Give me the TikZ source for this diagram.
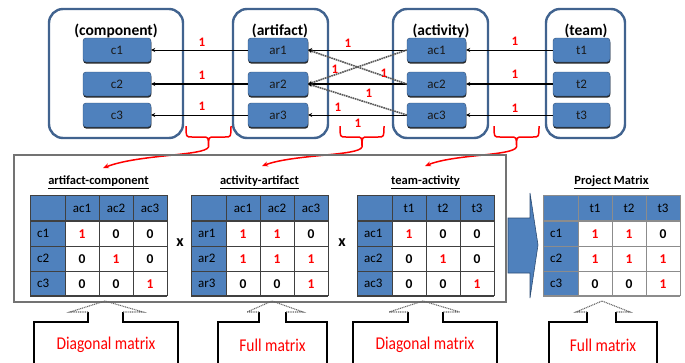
\documentclass[tikz,border=0pt]{standalone}
\usepackage{fontspec}
\setmainfont{Carlito}
\newfontfamily\notefont{Carlito}[FakeStretch=0.86]
\usetikzlibrary{arrows.meta,shadows}

\definecolor{boxblue}{HTML}{4F81BD}
\definecolor{frameblue}{HTML}{41638F}
\definecolor{boxedge}{HTML}{2C4D75}
\definecolor{lred}{HTML}{FF0000}

\tikzset{
  group/.style={draw=frameblue, line width=2.4pt, rounded corners=14pt, minimum height=129pt},
  gtitle/.style={font=\fontsize{15.5}{17}\selectfont\bfseries, inner sep=0pt},
  item/.style={draw=boxedge, fill=boxblue, rounded corners=3pt, minimum height=24pt,
    font=\fontsize{13}{15}\selectfont, text=black!90,
    drop shadow={shadow xshift=0.3pt, shadow yshift=-1.6pt, fill=black, opacity=.85}},
  conn/.style={draw=black, line width=0.9pt, -{Stealth[length=4pt,width=4pt]}},
  heavy/.style={conn, line width=2.6pt},
  cross/.style={draw=black!65, line width=1.6pt, dash pattern=on 1.6pt off 0.7pt,
    -{Stealth[length=4pt,width=4pt,color=black]}},
  one/.style={text=lred, font=\fontsize{13}{15}\selectfont\bfseries, inner sep=0pt},
  brace/.style={draw=lred, line width=1.5pt},
  pointer/.style={draw=lred, line width=1.5pt, -{Stealth[length=6pt,width=5pt]}},
  ttitle/.style={font=\fontsize{12.5}{14}\selectfont\bfseries, inner sep=0pt},
  hd/.style={font=\fontsize{13}{15}\selectfont, text=black, inner sep=0pt},
  val/.style={font=\fontsize{13.5}{15}\selectfont\bfseries, inner sep=0pt},
  times/.style={font=\fontsize{16}{18}\selectfont\bfseries, inner sep=0pt},
  note/.style={text=lred, font=\notefont\fontsize{18}{20}\selectfont, inner sep=0pt},
}

% #1 left edge, #2 name prefix, #3 column heads, #4 row heads, #5 nine values,
% #6 grid colour, #7 title
\newcommand{\mattab}[7]{%
  \fill[boxblue] (#1,195) rectangle ++(137,26);
  \fill[boxblue] (#1,221) rectangle ++(35,75);
  \foreach \gx in {0,35,69,103,137}
    \draw[#6, line width=0.9pt] (#1+\gx,195) -- (#1+\gx,296);
  \foreach \gy in {195,246,271}
    \draw[#6, line width=0.9pt] (#1,\gy) -- (#1+137,\gy);
  \foreach \gy in {221,296}
    \draw[#6, line width=1.6pt] (#1,\gy) -- (#1+137,\gy);
  \node[ttitle] (#2-title) at (#1+68.5,182) {\underline{#7}};
  \foreach \h [count=\i] in {#3}
    \node[hd] (#2-h\i) at (#1+18+34*\i,208) {\h};
  \foreach \h [count=\i] in {#4}
    \node[hd, anchor=west] (#2-r\i) at (#1+7,208.5+25*\i) {\h};
  \foreach \v [count=\k from 0] in {#5} {
    \pgfmathtruncatemacro\rr{div(\k,3)}
    \pgfmathtruncatemacro\cc{mod(\k,3)}
    \node[val] (#2-\rr-\cc) at (#1+52+34*\cc,234+25*\rr)
      {\ifnum\v=1 \textcolor{lred}{1}\else 0\fi};
  }
}

% #1,#2 box sides, #3,#4 stem sides, #5,#6 head corners, #7 tip, #8 name, #9 text
\newcommand{\upnote}[9]{%
  \draw[line width=1.3pt] (#1,366) -- (#1,322) -- (#3,322) -- (#3,312);
  \draw[line width=1.3pt] (#4,312) -- (#4,322) -- (#2,322) -- (#2,366);
  \draw[black!60, line width=1.1pt, dash pattern=on 1pt off 0.8pt]
    (#3,312) -- (#5,312) -- (#7,301) -- (#6,312) -- (#4,312);
  \node[note] (#8) at ({(#1+#2)/2},345) {#9};
}

\begin{document}
\begin{tikzpicture}[x=1pt, y=-1pt]
\useasboundingbox (0,0) rectangle (685,362);

% the four groups
\node[group, minimum width=134pt] (gcomp) at (116,73.5) {};
\node[group, minimum width=95pt]  (gart)  at (280.5,73.5) {};
\node[group, minimum width=95pt]  (gact)  at (440.5,73.5) {};
\node[group, minimum width=79pt]  (gteam) at (585.5,73.5) {};

\node[gtitle] (tcomp) at (116,31) {(component)};
\node[gtitle] (tart)  at (280,31) {(artifact)};
\node[gtitle] (tact)  at (441,31) {(activity)};
\node[gtitle] (tteam) at (586,31) {(team)};

% elements of each group
\foreach \n/\y in {1/50,2/84,3/115} {
  \node[item, minimum width=68pt] (c\n)  at (117,\y)   {c\n};
  \node[item, minimum width=60pt] (ar\n) at (278,\y)   {ar\n};
  \node[item, minimum width=59pt] (ac\n) at (436.5,\y) {ac\n};
  \node[item, minimum width=57pt] (t\n)  at (581.5,\y) {t\n};
}

% links between the groups
\draw[conn]  (t1.west) -- (ac1.east);
\draw[heavy] (t2.west) -- (ac2.east);
\draw[conn]  (t3.west) -- (ac3.east);
\draw[conn]  (ac1.west) -- (ar1.east);
\draw[heavy] (ac2.west) -- (ar2.east);
\draw[conn]  (ac3.west) -- (ar3.east);
\draw[cross] (ac2.west) -- (ar1.east);
\draw[cross] (ac1.west) -- (ar2.east);
\draw[cross] (ac3.west) -- (ar2.east);
\draw[conn]  (ar1.west) -- (c1.east);
\draw[heavy] (ar2.west) -- (c2.east);
\draw[conn]  (ar3.west) -- (c3.east);

% link weights
\node[one] (w1) at (202,42) {1};
\node[one] (w2) at (202,75) {1};
\node[one] (w3) at (202,106) {1};
\node[one] (w4) at (348,43) {1};
\node[one] (w5) at (335,69) {1};
\node[one] (w6) at (384,73) {1};
\node[one] (w7) at (369,93) {1};
\node[one] (w8) at (338,107) {1};
\node[one] (w9) at (358,123) {1};
\node[one] (w10) at (515,41) {1};
\node[one] (w11) at (515,74) {1};
\node[one] (w12) at (515,108) {1};

% braces under the gaps, each pointing to its matrix
\foreach \bl/\br/\nm in {186/231/b1,340/384/b2,494/539/b3} {
  \coordinate (\nm) at ({(\bl+\br)/2},147);
  \draw[brace] (\bl,126) .. controls (\bl,137) .. (\bl+6,137)
    -- ({(\bl+\br)/2-6},137) .. controls ({(\bl+\br)/2},137) .. (\nm)
    .. controls ({(\bl+\br)/2},137) .. ({(\bl+\br)/2+6},137)
    -- (\br-6,137) .. controls (\br,137) .. (\br,126);
}
\coordinate (e1) at (103,168);
\coordinate (e2) at (262,166);
\coordinate (e3) at (425,166);
\draw[pointer] (b1) .. controls (205,156) and (140,154) .. (e1);
\draw[pointer] (b2) .. controls (359,156) and (295,154) .. (e2);
\draw[pointer] (b3) .. controls (513,156) and (455,154) .. (e3);

% frame round the three factor matrices
\draw[black!55, line width=1.4pt] (14,155) rectangle (506,302);

\mattab{30}{mA}{ac1,ac2,ac3}{c1,c2,c3}{1,0,0,0,1,0,0,0,1}{black!75}{artifact-component}
\mattab{191}{mB}{ac1,ac2,ac3}{ar1,ar2,ar3}{1,1,0,1,1,1,0,0,1}{black!75}{activity-artifact}
\mattab{357}{mC}{t1,t2,t3}{ac1,ac2,ac3}{1,0,0,0,1,0,0,0,1}{black!75}{team-activity}
\mattab{543}{mP}{t1,t2,t3}{c1,c2,c3}{1,1,0,1,1,1,0,0,1}{black!45}{Project Matrix}

\node[times] (x1) at (180,243) {x};
\node[times] (x2) at (342,243) {x};

% result arrow
\draw[fill=boxblue, draw=boxedge, line width=0.6pt]
  (508,218) -- (530,218) -- (530,193) -- (538,245) -- (530,298) -- (530,273) -- (508,273) -- cycle;
\node[inner sep=0pt] (res) at (522,245) {};

% notes under the matrices
\upnote{34}{178}{88}{123}{70}{143}{105}{n1}{Diagonal matrix}
\upnote{218}{327}{259}{286}{247}{303}{272}{n2}{Full matrix}
\upnote{353}{497}{408}{443}{389}{460}{423}{n3}{Diagonal matrix}
\upnote{549}{657}{587}{616}{576}{630}{602}{n4}{Full matrix}
\end{tikzpicture}
\end{document}
